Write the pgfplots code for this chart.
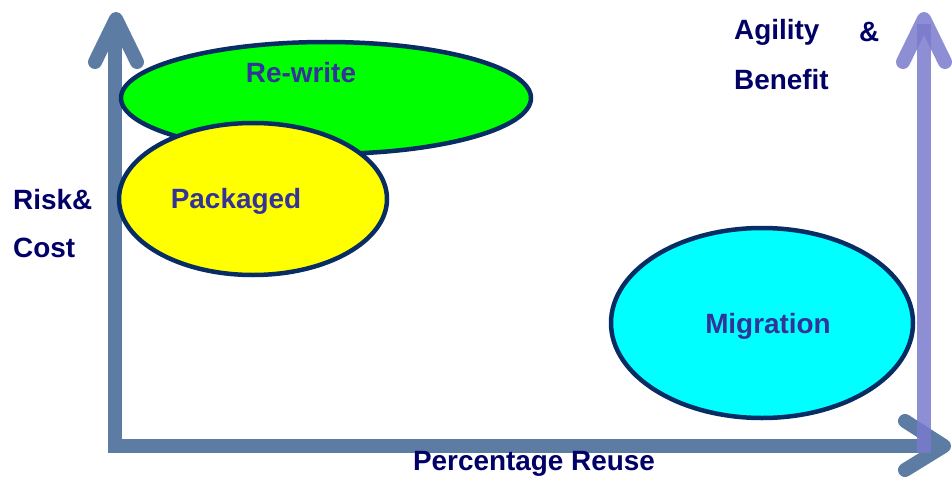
\documentclass[border=0pt]{standalone}
\usepackage{pgfplots}
\pgfplotsset{compat=1.18}
\usepackage{fontspec}
\setmainfont{Liberation Sans}
\definecolor{arrowblue}{RGB}{92,124,164}
\definecolor{arrowpurple}{RGB}{122,122,204}
\definecolor{edge}{RGB}{8,45,100}
\definecolor{lbl}{RGB}{51,51,153}
\definecolor{navy}{RGB}{0,0,102}
\definecolor{gfill}{RGB}{0,255,0}
\definecolor{yfill}{RGB}{255,255,0}
\definecolor{cfill}{RGB}{0,255,255}
\begin{document}
\begin{tikzpicture}
\begin{axis}[name=ax, scale only axis, width=952bp, height=479bp,
  xmin=0, xmax=952, ymin=0, ymax=479, y dir=reverse, hide axis, clip=false]
% axes arrows
\addplot[arrowblue, line width=14bp, line cap=butt] coordinates {(115,446) (115,24)};
\addplot[arrowblue, line width=14bp, line cap=round, line join=round] coordinates {(95,62) (116,19) (137,62)};
\addplot[arrowblue, line width=14bp, line cap=butt] coordinates {(108,446) (938,446)};
\addplot[arrowblue, line width=14bp, line cap=round, line join=round] coordinates {(905,421) (944,446) (905,470)};
\addplot[arrowpurple, opacity=0.85, line width=14bp, line cap=butt] coordinates {(924,453) (924,24)};
\addplot[arrowpurple, opacity=0.85, line width=14bp, line cap=round, line join=round] coordinates {(903,62) (924,19) (945,62)};
% ellipses
\draw[edge, line width=4.5bp, fill=gfill] (axis cs:326,98) ellipse [x radius=205bp, y radius=56bp];
\draw[edge, line width=4.5bp, fill=yfill] (axis cs:253,199) ellipse [x radius=134bp, y radius=76bp];
\draw[edge, line width=4.5bp, fill=cfill] (axis cs:762,323) ellipse [x radius=151bp, y radius=95bp];
% labels
\node[lbl, font=\fontsize{28}{32}\selectfont\bfseries] at (axis cs:301,73) {Re-write};
\node[lbl, font=\fontsize{28}{32}\selectfont\bfseries] at (axis cs:236,201) {Packaged};
\node[lbl, font=\fontsize{28}{32}\selectfont\bfseries] at (axis cs:768,326) {Migration};
\node[navy, anchor=west, inner sep=0pt, font=\fontsize{28}{32}\selectfont\bfseries] at (axis cs:13,200) {Risk\&};
\node[navy, anchor=west, inner sep=0pt, font=\fontsize{28}{32}\selectfont\bfseries] at (axis cs:13,248) {Cost};
\node[navy, anchor=west, inner sep=0pt, font=\fontsize{28}{32}\selectfont\bfseries] at (axis cs:734,32) {Agility};
\node[navy, anchor=west, inner sep=0pt, font=\fontsize{28}{32}\selectfont\bfseries] at (axis cs:859,32) {\&};
\node[navy, anchor=west, inner sep=0pt, font=\fontsize{28}{32}\selectfont\bfseries] at (axis cs:734,80) {Benefit};
\node[navy, font=\fontsize{28}{32}\selectfont\bfseries] at (axis cs:534,464) {Percentage Reuse};
\end{axis}
\pgfresetboundingbox
\path (ax.south west) rectangle (ax.north east);
\end{tikzpicture}
\end{document}
